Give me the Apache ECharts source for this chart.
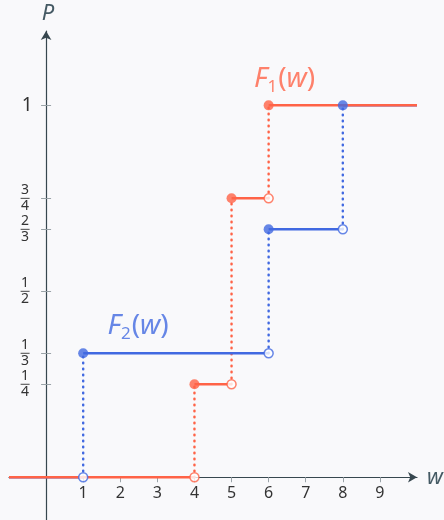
<!DOCTYPE html>
<html>
<head>
<meta charset="utf-8">
<script src="https://cdn.jsdelivr.net/npm/echarts@6/dist/echarts.min.js"></script>
<style>
html, body { margin: 0; padding: 0; background: #f9f9fb; }
#chart { width: 444px; height: 520px; }
</style>
</head>
<body>
<div id="chart"></div>
<script>
// data
const wRange = [-1, 10]
const pRange = [-0.115, 1.2]
const jumps1 = [4, 5, 6]
const levels1 = [0, 1 / 4, 3 / 4, 1]
const jumps2 = [1, 6, 8]
const levels2 = [0, 1 / 3, 2 / 3, 1]
const xTicks = [1, 2, 3, 4, 5, 6, 7, 8, 9]
const yTicks = [1 / 4, 1 / 3, 1 / 2, 2 / 3, 3 / 4, 1]
const yTickLabels = ['1/4', '1/3', '1/2', '2/3', '3/4', '1']

const RED = '#ff6347'
const BLUE = '#4169e1'
const AXIS = '#37474f'
const TICK = '#9aa3a8'
const FONT = '"Noto Sans", sans-serif'

const GRID = { left: 9, width: 408, top: 31, height: 489 }
// where the zero lines fall inside the grid (used to shift the label-only axes)
const zeroFromLeft = GRID.width * (0 - wRange[0]) / (wRange[1] - wRange[0])
const zeroFromBottom = GRID.height * (0 - pRange[0]) / (pRange[1] - pRange[0])

const chart = echarts.init(document.getElementById('chart'))

const yLabel = (v) => {
  let idx = 0
  yTicks.forEach((t, i) => {
    if (Math.abs(t - v) < Math.abs(yTicks[idx] - v)) idx = i
  })
  const txt = yTickLabels[idx]
  if (txt.indexOf('/') < 0) return '{one|' + txt + '}'
  const [n, d] = txt.split('/')
  return '{n|' + n + '}\n{b| }\n{n|' + d + '}'
}

const fnLabel = (sub, color, offset) => ({
  show: true,
  position: 'top',
  offset: offset,
  formatter: '{i|F}{s|' + sub + '}{p|(}{i|w}{p|)}',
  rich: {
    i: { fontFamily: FONT, fontStyle: 'italic', fontSize: 28, color: color, lineHeight: 32 },
    p: { fontFamily: FONT, fontSize: 28, color: color, lineHeight: 32 },
    s: { fontFamily: FONT, fontSize: 17, color: color, verticalAlign: 'bottom', lineHeight: 22, padding: [0, 1, 0, 0] }
  }
})

const stepSeries = (jumps, levels, color, labelIdx, label) => {
  const list = []
  levels.forEach((lv, i) => {
    const start = i === 0 ? wRange[0] : jumps[i - 1]
    const end = i === levels.length - 1 ? wRange[1] : jumps[i]
    list.push({
      type: 'line',
      data: [[start, lv], [end, lv]],
      showSymbol: false,
      silent: true,
      lineStyle: { color: color, width: 2.5 },
      z: 3
    })
  })
  jumps.forEach((w, i) => {
    list.push({
      type: 'line',
      data: [[w, levels[i]], [w, levels[i + 1]]],
      showSymbol: false,
      silent: true,
      lineStyle: { color: color, width: 2.5, type: [0.5, 5.5], cap: 'round' },
      z: 2
    })
  })
  list.push({
    type: 'scatter',
    data: jumps.map((w, i) => [w, levels[i]]),
    symbolSize: 9,
    itemStyle: { color: '#fff', borderColor: color, borderWidth: 1.5 },
    z: 4
  })
  list.push({
    type: 'scatter',
    data: jumps.map((w, i) => (i === labelIdx ? { value: [w, levels[i + 1]], label: label } : [w, levels[i + 1]])),
    symbolSize: 10,
    itemStyle: { color: color },
    z: 4
  })
  return list
}

// extra axes that only carry tick marks
const tickAxis = (type, range, ticks, inside) => ({
  type: 'value',
  position: type === 'x' ? 'bottom' : 'left',
  min: range[0],
  max: range[1],
  axisLine: { show: true, onZero: true, onZeroAxisIndex: 0, lineStyle: { opacity: 0 } },
  axisTick: { show: true, inside: inside, customValues: ticks, length: 5, lineStyle: { color: TICK } },
  axisLabel: { show: false },
  splitLine: { show: false }
})

const option = {
  backgroundColor: '#f9f9fb',
  animation: false,
  grid: Object.assign({ outerBoundsMode: 'none' }, GRID),
  xAxis: [
    {
      type: 'value',
      min: wRange[0],
      max: wRange[1],
      name: 'w',
      nameGap: 10,
      nameTextStyle: { fontFamily: FONT, fontStyle: 'italic', fontSize: 22, color: '#455a64' },
      axisLine: { show: true, onZero: true, onZeroAxisIndex: 0, symbol: ['none', 'arrow'], symbolSize: [8, 9], lineStyle: { color: AXIS, width: 1.2 } },
      axisTick: { show: false },
      axisLabel: { show: false },
      splitLine: { show: false }
    },
    tickAxis('x', wRange, xTicks, false),
    {
      // labels only, shifted up to the zero line
      type: 'value',
      position: 'bottom',
      offset: -zeroFromBottom,
      min: wRange[0],
      max: wRange[1],
      axisLine: { show: false, onZero: false },
      axisTick: { show: false },
      axisLabel: { show: true, customValues: xTicks, margin: 8, fontFamily: FONT, fontSize: 16, color: '#333' },
      splitLine: { show: false }
    }
  ],
  yAxis: [
    {
      type: 'value',
      min: pRange[0],
      max: pRange[1],
      name: 'P',
      nameGap: 6,
      nameTextStyle: { fontFamily: FONT, fontStyle: 'italic', fontSize: 22, color: '#455a64', padding: [0, 0, 0, 4] },
      axisLine: { show: true, onZero: true, onZeroAxisIndex: 0, symbol: ['none', 'arrow'], symbolSize: [8, 9], lineStyle: { color: AXIS, width: 1.2 } },
      axisTick: { show: false },
      axisLabel: { show: false },
      splitLine: { show: false }
    },
    tickAxis('y', pRange, yTicks, false),
    tickAxis('y', pRange, yTicks, true),
    {
      // labels only, shifted right to the zero line
      type: 'value',
      position: 'left',
      offset: -zeroFromLeft,
      min: pRange[0],
      max: pRange[1],
      axisLine: { show: false, onZero: false },
      axisTick: { show: false },
      axisLabel: {
        show: true,
        customValues: yTicks,
        align: 'center',
        margin: 21,
        formatter: yLabel,
        rich: {
          one: { fontFamily: FONT, fontSize: 19, color: '#333', padding: [0, 0, 0, 4] },
          n: { fontFamily: FONT, fontSize: 14, color: '#333', lineHeight: 13 },
          b: { fontSize: 1, width: 9, height: 1, lineHeight: 3, backgroundColor: '#444' }
        }
      },
      splitLine: { show: false }
    }
  ],
  series: [
    ...stepSeries(jumps2, levels2, BLUE, 0, fnLabel('2', BLUE, [55, -1])),
    ...stepSeries(jumps1, levels1, RED, 2, fnLabel('1', RED, [16, 0]))
  ]
}

chart.setOption(option)
</script>
</body>
</html>
